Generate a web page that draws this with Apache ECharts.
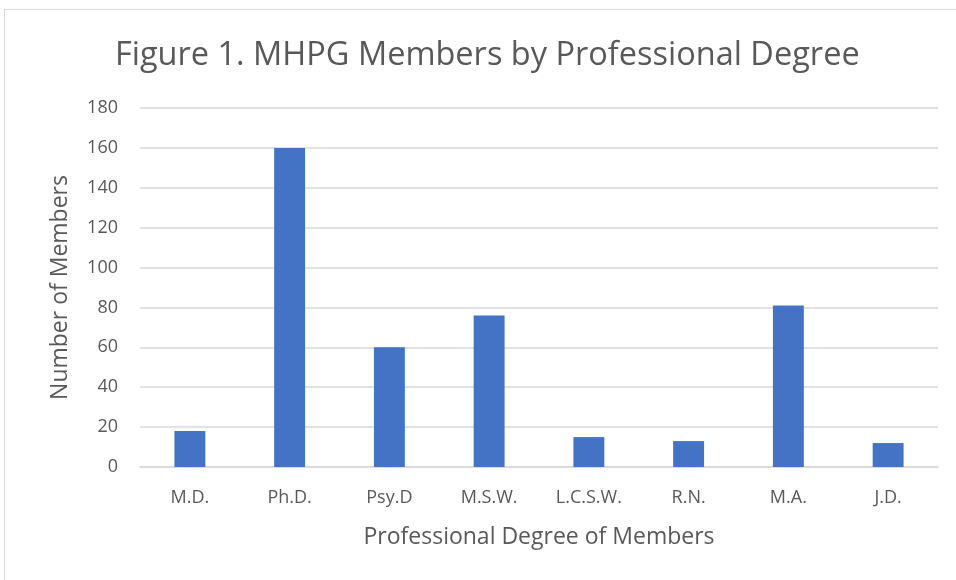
<!DOCTYPE html>
<html>
<head>
<meta charset="utf-8">
<script src="https://cdn.jsdelivr.net/npm/echarts@6/dist/echarts.min.js"></script>
<style>
  html, body { margin: 0; padding: 0; background: #fff; }
  #frame { position: absolute; left: 4px; top: 9px; width: 960px; height: 580px; border: 1px solid #d9d9d9; box-sizing: border-box; }
  #main { width: 956px; height: 580px; }
</style>
</head>
<body>
<div id="frame"></div>
<div id="main"></div>
<script>
var degrees = ["M.D.", "Ph.D.", "Psy.D", "M.S.W.", "L.C.S.W.", "R.N.", "M.A.", "J.D."];
var members = [18, 160, 60, 76, 15, 13, 81, 12];

var font = "Open Sans";
var chart = echarts.init(document.getElementById("main"));
chart.setOption({
    animation: false,
    title: {
        text: "Figure 1. MHPG Members by Professional Degree",
        left: 110,
        top: 34,
        textStyle: { fontFamily: font, fontSize: 32.5, fontWeight: "normal", color: "#595959" }
    },
    grid: { left: 140, right: 18, top: 108, bottom: 113 },
    xAxis: {
        type: "category",
        data: degrees,
        name: "Professional Degree of Members",
        nameLocation: "middle",
        nameGap: 59,
        nameTextStyle: { fontFamily: font, fontSize: 23, color: "#595959" },
        axisLine: { lineStyle: { color: "#d9d9d9", width: 1.5 } },
        axisTick: { show: false },
        axisLabel: { fontFamily: font, fontSize: 18, color: "#595959", margin: 22 }
    },
    yAxis: {
        type: "value",
        min: 0,
        max: 180,
        interval: 20,
        name: "Number of Members",
        nameLocation: "middle",
        nameGap: 68,
        nameTextStyle: { fontFamily: font, fontSize: 23, color: "#595959" },
        axisLine: { show: false },
        axisTick: { show: false },
        axisLabel: { fontFamily: font, fontSize: 18, color: "#595959", margin: 22 },
        splitLine: { lineStyle: { color: "#d9d9d9", width: 1.5 } }
    },
    series: [{
        type: "bar",
        data: members,
        barWidth: "31%",
        itemStyle: { color: "#4472c4" }
    }]
});
</script>
</body>
</html>
